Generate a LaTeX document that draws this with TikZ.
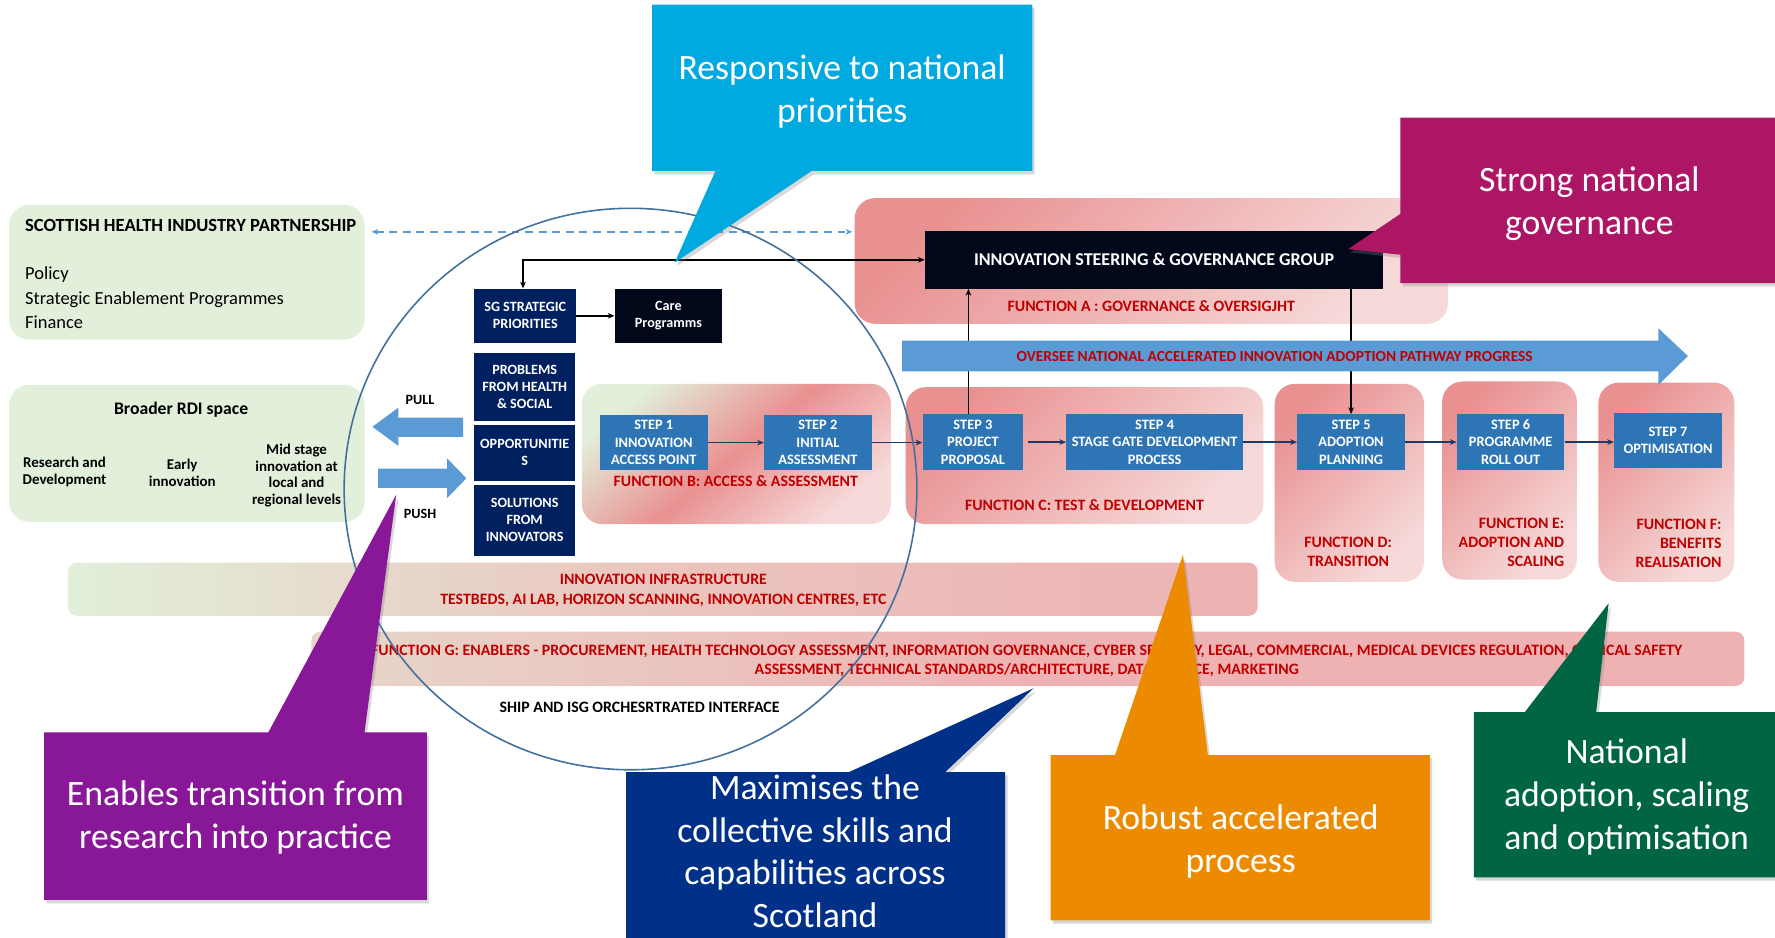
\documentclass[tikz,border=0pt]{standalone}
\usepackage{fontspec}
\setmainfont{Carlito}
\usetikzlibrary{arrows.meta,shadows,calc}
\definecolor{lgreen}{RGB}{226,239,218}
\definecolor{pinkD}{RGB}{233,145,145}
\definecolor{pinkM}{RGB}{238,178,178}
\definecolor{pinkL}{RGB}{246,218,218}
\definecolor{stepblue}{RGB}{46,117,182}
\definecolor{navy}{RGB}{0,32,96}
\definecolor{nearblack}{RGB}{0,8,25}
\definecolor{arrowblue}{RGB}{91,155,213}
\definecolor{redtxt}{RGB}{192,0,0}
\definecolor{flowc}{RGB}{31,56,100}
\definecolor{circc}{RGB}{65,113,156}
\definecolor{cyanc}{RGB}{0,169,224}
\definecolor{magc}{RGB}{172,22,100}
\definecolor{purc}{RGB}{136,24,152}
\definecolor{dbluec}{RGB}{0,48,135}
\definecolor{orac}{RGB}{236,139,0}
\definecolor{dgreenc}{RGB}{0,101,66}
\tikzset{
  greenbox/.style={fill=lgreen, rounded corners=18pt, inner sep=0pt},
  funbox/.style={rounded corners=18pt, inner sep=0pt, top color=pinkD, bottom color=pinkL, shading angle=45},
  stepbox/.style={fill=stepblue, text=white, font=\bfseries\fontsize{12.7}{15.5}\selectfont, align=center, inner sep=0pt},
  navybox/.style={fill=navy, text=white, font=\bfseries\fontsize{12.5}{15}\selectfont, align=center, inner sep=0pt},
  blackbox/.style={fill=nearblack, text=white, align=center, inner sep=0pt},
  redlbl/.style={text=redtxt, font=\bfseries\fontsize{14}{17}\selectfont, align=center, inner sep=0pt},
  flow/.style={-{Stealth[length=6pt,width=5pt]}, line width=1.3pt, draw=flowc},
  blk/.style={line width=1.3pt, draw=black},
  callt/.style={text=white, font=\fontsize{31.5}{38}\selectfont, align=center, inner sep=0pt},
  callshape/.style={drop shadow={opacity=0.3, shadow xshift=2pt, shadow yshift=-3pt}},
}
\begin{document}
\begin{tikzpicture}[x=1pt,y=-1pt]
\useasboundingbox (0,0) rectangle (1568,828);
\fill[white] (0,0) rectangle (1568,828);

% left green boxes
\node[greenbox, minimum width=314, minimum height=119] (ship) at (165,240.5) {};
\node[anchor=west, inner sep=0pt, font=\bfseries\fontsize{16.4}{18}\selectfont] (shipt) at (22,199) {SCOTTISH HEALTH INDUSTRY PARTNERSHIP};
\node[anchor=west, inner sep=0pt, align=left, font=\fontsize{16.3}{21.5}\selectfont] (shipl) at (22,263) {Policy\\Strategic Enablement Programmes\\Finance};

\node[greenbox, minimum width=314, minimum height=121] (rdi) at (165,400.5) {};
\node[inner sep=0pt, font=\bfseries\fontsize{15.6}{18}\selectfont] (rdit) at (160,362) {Broader RDI space};
\node[inner sep=0pt, align=center, font=\bfseries\fontsize{13.2}{15}\selectfont] (rd1) at (57,417) {Research and\\Development};
\node[inner sep=0pt, align=center, font=\bfseries\fontsize{13.2}{15}\selectfont] (rd2) at (161,418) {Early\\innovation};
\node[inner sep=0pt, align=center, font=\bfseries\fontsize{13.2}{14.5}\selectfont] (rd3) at (262,420) {Mid stage\\innovation at\\local and\\regional levels};

% function boxes
\node[funbox, minimum width=524, minimum height=111] (funA) at (1017,230.5) {};
\node[funbox, top color=lgreen, bottom color=pinkL, middle color=pinkD, shading angle=40, minimum width=273, minimum height=124] (funB) at (650.5,401) {};
\node[funbox, minimum width=316, minimum height=121] (funC) at (958,402.5) {};
\node[funbox, minimum width=132, minimum height=175] (funD) at (1192,426.5) {};
\node[funbox, minimum width=119, minimum height=175] (funE) at (1333.5,424.5) {};
\node[funbox, minimum width=120, minimum height=176] (funF) at (1472,426) {};

% bands
\node[rounded corners=8pt, inner sep=0pt, left color=lgreen, right color=pinkM, middle color=pinkM!70!lgreen, minimum width=1051, minimum height=47] (infra) at (585.5,520.5) {};
\node[rounded corners=8pt, inner sep=0pt, left color=lgreen!60!pinkM, right color=pinkM, middle color=pinkM, minimum width=1266, minimum height=48] (fung) at (908,582) {};

% function labels
\node[redlbl] (laba) at (1017,270) {FUNCTION A : GOVERNANCE \& OVERSIGJHT};
\node[redlbl] (labb) at (650,425) {FUNCTION B: ACCESS \& ASSESSMENT};
\node[redlbl] (labc) at (958,446) {FUNCTION C: TEST \& DEVELOPMENT};
\node[redlbl] (labd) at (1191,487.5) {FUNCTION D:\\TRANSITION};
\node[redlbl, align=right, anchor=east] (labe) at (1382,479) {FUNCTION E:\\ADOPTION AND\\SCALING};
\node[redlbl, align=right, anchor=east] (labf) at (1521,480) {FUNCTION F:\\BENEFITS\\REALISATION};
\node[redlbl] (labi) at (586,521.5) {INNOVATION INFRASTRUCTURE\\TESTBEDS, AI LAB, HORIZON SCANNING, INNOVATION CENTRES, ETC};
\node[redlbl] (labg) at (907,583.5) {FUNCTION G: ENABLERS - PROCUREMENT, HEALTH TECHNOLOGY ASSESSMENT, INFORMATION GOVERNANCE, CYBER SECURITY, LEGAL, COMMERCIAL, MEDICAL DEVICES REGULATION, CLINICAL SAFETY\\ASSESSMENT, TECHNICAL STANDARDS/ARCHITECTURE, DATA SCIENCE, MARKETING};
\node[inner sep=0pt, font=\bfseries\fontsize{14}{15}\selectfont] (ship2) at (565,625) {SHIP AND ISG ORCHESRTRATED INTERFACE};

% black / navy boxes
\node[blackbox, font=\bfseries\fontsize{15.9}{18}\selectfont, minimum width=405, minimum height=51] (isg) at (1019.5,229.5) {INNOVATION STEERING \& GOVERNANCE GROUP};
\node[navybox, minimum width=90, minimum height=48] (sg) at (464,279) {SG STRATEGIC\\PRIORITIES};
\node[blackbox, font=\bfseries\fontsize{12.5}{15}\selectfont, minimum width=95, minimum height=48] (care) at (590.5,279) {Care\\Programms};
\node[navybox, minimum width=89, minimum height=60] (prob) at (463.5,342) {PROBLEMS\\FROM HEALTH\\\& SOCIAL};
\node[navybox, minimum width=89, minimum height=50] (opp) at (463.5,400) {OPPORTUNITIE\\S};
\node[navybox, minimum width=89, minimum height=63] (sol) at (463.5,459.5) {SOLUTIONS\\FROM\\INNOVATORS};

% steps
\node[stepbox, minimum width=95, minimum height=48] (s1) at (577.5,391) {STEP 1\\INNOVATION\\ACCESS POINT};
\node[stepbox, minimum width=95, minimum height=48] (s2) at (722.5,391) {STEP 2\\INITIAL\\ASSESSMENT};
\node[stepbox, minimum width=89, minimum height=49] (s3) at (859.5,390.5) {STEP 3\\PROJECT\\PROPOSAL};
\node[stepbox, minimum width=156, minimum height=49] (s4) at (1020,390.5) {STEP 4\\STAGE GATE DEVELOPMENT\\PROCESS};
\node[stepbox, minimum width=95, minimum height=49] (s5) at (1193.5,390.5) {STEP 5\\ADOPTION\\PLANNING};
\node[stepbox, minimum width=95, minimum height=49] (s6) at (1334.5,390.5) {STEP 6\\PROGRAMME\\ROLL OUT};
\node[stepbox, minimum width=95, minimum height=48] (s7) at (1473.5,389) {STEP 7\\OPTIMISATION};

% connectors
\draw[arrowblue, dashed, dash pattern=on 7pt off 5pt, line width=1.4pt, {Stealth[length=6pt,width=5pt]}-{Stealth[length=6pt,width=5pt]}] ($(ship.north east)+(6,24)$) -- ($(funA.north west)+(-2,30)$);
\draw[blk, {Stealth[length=6pt,width=5pt]}-{Stealth[length=6pt,width=5pt]}] ([xshift=-2]sg.north) |- (isg.west);
\draw[blk, -{Stealth[length=6pt,width=5pt]}] (sg.east) -- (care.west);
\draw[blk, -{Stealth[length=6pt,width=5pt]}] ([xshift=-4]s3.north) -- ([xshift=-4]s3.north |- isg.south);
\draw[blk, -{Stealth[length=6pt,width=5pt]}] (isg.south -| s5.north) -- (s5.north);
\draw[flow] (s1) -- (s2);
\draw[flow] (s2.east) -- (s3.west |- s2.east);
\draw[flow] ([xshift=4]s3.east) -- (s4);
\draw[flow] (s4) -- (s5);
\draw[flow] (s5) -- (s6);
\draw[flow] (s6) -- (s7.west |- s6.east);

% big blue arrow
\fill[arrowblue] (797,301) -- (1465,301) -- (1465,290) -- (1491,314.5) -- (1465,340) -- (1465,328) -- (797,328) -- cycle;
\node[redlbl, font=\bfseries\fontsize{13.6}{15}\selectfont] (ovs) at (1126,314.5) {OVERSEE NATIONAL ACCELERATED INNOVATION ADOPTION PATHWAY PROGRESS};

% pull / push
\fill[arrowblue] (329,377) -- (352,360) -- (352,369) -- (409,369) -- (409,386) -- (352,386) -- (352,394) -- cycle;
\fill[arrowblue] (412,422.5) -- (395,405) -- (395,414) -- (334,414) -- (334,431) -- (395,431) -- (395,440) -- cycle;
\node[inner sep=0pt, font=\bfseries\fontsize{12.5}{14}\selectfont] (pull) at (371,353) {PULL};
\node[inner sep=0pt, font=\bfseries\fontsize{12.5}{14}\selectfont] (push) at (371,454) {PUSH};

% circle
\draw[circc, line width=1.4pt] (557,432) ellipse [x radius=253, y radius=248];

% callouts
\fill[cyanc, callshape] (576,4) -- (912,4) -- (912,151) -- (717,151) -- (596,232) -- (632,151) -- (576,151) -- cycle;
\node[callt] (c1) at (744,81) {Responsive to national\\priorities};
\fill[magc, callshape] (1237,104) -- (1570,104) -- (1570,250) -- (1237,250) -- (1237,225) -- (1191,220) -- (1237,189) -- cycle;
\node[callt] (c2) at (1404,180) {Strong national\\governance};
\fill[purc, callshape] (39,647) -- (237,647) -- (350,437) -- (322,647) -- (377,647) -- (377,795) -- (39,795) -- cycle;
\node[callt] (c3) at (208,722) {Enables transition from\\research into practice};
\fill[dbluec, callshape] (553,682) -- (750,682) -- (913,608) -- (835,682) -- (888,682) -- (888,832) -- (553,832) -- cycle;
\node[callt, font=\fontsize{31.5}{37.5}\selectfont] (c4) at (720,752) {Maximises the\\collective skills and\\capabilities across\\Scotland};
\fill[orac, callshape] (928,667) -- (985,667) -- (1045,490) -- (1067,667) -- (1263,667) -- (1263,813) -- (928,813) -- cycle;
\node[callt] (c5) at (1096,743) {Robust accelerated\\process};
\fill[dgreenc, callshape] (1302,629) -- (1347,629) -- (1421,533) -- (1410,629) -- (1570,629) -- (1570,775) -- (1302,775) -- cycle;
\node[callt] (c6) at (1437,704) {National\\adoption, scaling\\and optimisation};
\end{tikzpicture}
\end{document}
